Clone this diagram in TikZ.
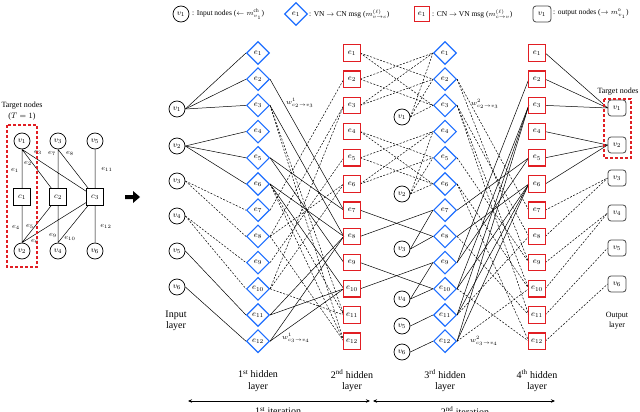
\documentclass[tikz,border=0pt]{standalone}
\usepackage{fontspec}
\setmainfont{Liberation Serif}
\usetikzlibrary{shapes.geometric,arrows.meta}
\definecolor{dblue}{RGB}{30,110,255}
\definecolor{dred}{RGB}{225,30,35}
\definecolor{ogray}{RGB}{70,70,70}
\begin{document}
\begin{tikzpicture}[x=1pt,y=-1pt,
  vin/.style={circle,draw,line width=0.7pt,minimum size=16pt,inner sep=0pt,font=\footnotesize},
  dia/.style={diamond,draw=dblue,line width=1.1pt,minimum size=23pt,inner sep=0pt,font=\footnotesize},
  cnsq/.style={rectangle,minimum size=16pt,inner sep=0pt,font=\footnotesize},
  redbox/.style={draw=dred,line width=1.2pt},
  vout/.style={rectangle,rounded corners=3pt,draw=ogray,line width=0.8pt,minimum width=18pt,minimum height=16pt,inner sep=0pt,font=\footnotesize},
  cnode/.style={rectangle,draw,line width=0.6pt,minimum size=17pt,inner sep=0pt,font=\footnotesize},
  sl/.style={line width=0.5pt},
  dl/.style={line width=0.5pt,dash pattern=on 2pt off 1.5pt},
  lab/.style={font=\fontsize{10}{11.5}\selectfont,align=center},
  sml/.style={font=\fontsize{8}{10}\selectfont,align=center},
  lgt/.style={font=\fontsize{7.5}{9}\selectfont,inner sep=0pt},
  wl/.style={font=\scriptsize,inner sep=0pt},
  el/.style={font=\scriptsize,inner sep=0pt},
]
\useasboundingbox (0,0) rectangle (640,412);

% ---------- legend ----------
\node[vin] (lg1) at (181,14) {$v_1$};
\node[lgt,anchor=west] (lt1) at (192,14) {: Input nodes ($\leftarrow m^{\mathrm{ch}}_{v_1}$)};
\node[dia] (lg2) at (296,14) {$e_1$};
\node[lgt,anchor=west] (lt2) at (309,14) {: VN $\rightarrow$ CN msg ($m^{(\ell)}_{v\rightarrow c}$)};
\node[cnsq,minimum size=14pt] (lg3) at (422,14) {$e_1$};
\node[lgt,anchor=west] (lt3) at (432,14) {: CN $\rightarrow$ VN msg ($m^{(\ell)}_{c\rightarrow v}$)};
\node[vout] (lg4) at (542,14) {$v_1$};
\node[lgt,anchor=west] (lt4) at (553,14) {: output nodes ($\rightarrow m^{\mathrm{o}}_{v_1}$)};

% ---------- Tanner graph ----------
\node[vin] (tv1) at (22,141) {$v_1$};
\node[vin] (tv3) at (58,141) {$v_3$};
\node[vin] (tv5) at (95,141) {$v_5$};
\node[cnode] (tc1) at (22,197) {$c_1$};
\node[cnode] (tc2) at (58,197) {$c_2$};
\node[cnode] (tc3) at (95,197) {$c_3$};
\node[vin] (tv2) at (22,251) {$v_2$};
\node[vin] (tv4) at (58,251) {$v_4$};
\node[vin] (tv6) at (95,251) {$v_6$};
\draw[sl] (tv1.south) -- (tc1) (tv1.south) -- (tc2) (tv1.south) -- (tc3)
          (tv3) -- (tc2) (tv3.south) -- (tc3) (tv5) -- (tc3)
          (tv2) -- (tc1) (tv2.north) -- (tc2) (tv2.north) -- (tc3)
          (tv4) -- (tc2) (tv4.north) -- (tc3) (tv6) -- (tc3);
\node[el] (te1) at (15,170) {$e_1$};
\node[el] (te2) at (28,163) {$e_2$};
\node[el] (te3) at (38,152) {$e_3$};
\node[el] (te7) at (52,153) {$e_7$};
\node[el] (te8) at (70,153) {$e_8$};
\node[el] (te11) at (107,169) {$e_{11}$};
\node[el] (te4) at (16,227) {$e_4$};
\node[el] (te5) at (30,226) {$e_5$};
\node[el] (te6) at (35,241) {$e_6$};
\node[el] (te9) at (53,235) {$e_9$};
\node[el] (te10) at (70,238) {$e_{10}$};
\node[el] (te12) at (106,226) {$e_{12}$};
\node[sml] (tgt1) at (22,106) {Target nodes};
\node[sml] (tgt2) at (22,117) {($T = 1$)};
\fill (125,195) -- (133,195) -- (133,191) -- (140,197) -- (133,203) -- (133,199) -- (125,199) -- cycle;

% ---------- layered network ----------
\foreach \k/\y in {1/109,2/146,3/181,4/216,5/251,6/287}
  \node[vin] (i\k) at (177,\y) {$v_{\k}$};
\foreach \k/\y in {1/117,2/194,3/249,4/299,5/326,6/352}
  \node[vin] (m\k) at (402,\y) {$v_{\k}$};
\foreach \k/\y in {1/108,2/145,3/178,4/213,5/248,6/284}
  \node[vout] (o\k) at (617,\y) {$v_{\k}$};
\foreach \k in {1,...,12}{
  \pgfmathsetmacro\yy{53+(\k-1)*26.2}
  \node[dia] (a\k) at (258,\yy) {$e_{\k}$};
  \node[cnsq] (b\k) at (352,\yy) {$e_{\k}$};
  \node[dia] (c\k) at (445,\yy) {$e_{\k}$};
  \node[cnsq] (d\k) at (537,\yy) {$e_{\k}$};
}

% input -> layer 1
\foreach \s/\t in {1/1,1/2,1/3,2/4,2/5,2/6,5/11,6/12}
  \draw[sl] (i\s.east) -- (a\t.west);
\foreach \s/\t in {3/7,3/8,4/9,4/10}
  \draw[dl] (i\s.east) -- (a\t.west);

% layer 1 -> layer 2
\foreach \s/\t in {2/7,5/7,5/9,3/8,6/8,6/10,11/8,11/10,12/8,12/10}
  \draw[sl] (a\s.east) -- (b\t.west);
\foreach \s/\t in {7/2,9/5,8/3,10/3,8/6,10/6,3/11,3/12,6/11,6/12,8/12,10/11}
  \draw[dl] (a\s.east) -- (b\t.west);

% layer 2 -> layer 3
\foreach \s/\t in {1/2,1/3,2/1,2/3,3/1,3/2,4/5,4/6,5/4,5/6,6/4,6/5}
  \draw[dl] (b\s.east) -- (c\t.west);
\foreach \s/\t in {7/8,8/7,9/10,10/9}
  \draw[sl] (b\s.east) -- (c\t.west);
\foreach \s/\t in {1/1,1/2,1/3,2/4,2/5,2/6}
  \draw[dl] (m\s.east) -- (c\t.west);
\foreach \s/\t in {3/7,3/8,4/9,4/10,5/11,6/12}
  \draw[sl] (m\s.east) -- (c\t.west);

% layer 3 -> layer 4
\foreach \s/\t in {9/2,7/5,9/5,10/3,8/6,10/6,11/3,11/6,12/3,12/6}
  \draw[sl] (c\s.east) -- (d\t.west);
\foreach \s/\t in {2/7,2/9,5/9,3/8,3/10,6/10,6/12,12/10,11/8,3/11,8/11,10/12}
  \draw[dl] (c\s.east) -- (d\t.west);

% layer 4 -> output
\foreach \s/\t in {1/1,2/1,3/1,4/2,5/2,6/2}
  \draw[sl] (d\s.east) -- (o\t.west);
\foreach \s/\t in {7/3,8/3,9/4,10/4,11/5,12/6}
  \draw[dl] (d\s.east) -- (o\t.west);

% weight labels
\node[wl] (w1) at (300,103) {$w^{1}_{c_2\rightarrow v_3}$};
\node[wl] (w2) at (296,338) {$w^{1}_{c_3\rightarrow v_4}$};
\node[wl] (w3) at (485,104) {$w^{2}_{c_2\rightarrow v_3}$};
\node[wl] (w4) at (484,341) {$w^{2}_{c_3\rightarrow v_4}$};

\node[sml] (tgt3) at (618,92) {Target nodes};

% layer labels
\node[lab] (inl) at (176,321) {Input\\layer};
\node[sml] (outl) at (617,321) {Output\\layer};
\node[lab] (h1) at (258,381) {1\textsuperscript{st} hidden\\layer};
\node[lab] (h2) at (352,381) {2\textsuperscript{nd} hidden\\layer};
\node[lab] (h3) at (445,381) {3\textsuperscript{rd} hidden\\layer};
\node[lab] (h4) at (537,381) {4\textsuperscript{th} hidden\\layer};

% iteration arrows
\coordinate (it1a) at (188,401);
\coordinate (it1b) at (370,401);
\coordinate (it2a) at (373,401);
\coordinate (it2b) at (555,401);
\draw[{Stealth[length=4pt,width=3.5pt]}-{Stealth[length=4pt,width=3.5pt]},line width=0.7pt] (it1a) -- (it1b);
\draw[{Stealth[length=4pt,width=3.5pt]}-{Stealth[length=4pt,width=3.5pt]},line width=0.7pt] (it2a) -- (it2b);
\node[lab] (itl1) at (278,411) {1\textsuperscript{st} iteration};
\node[lab] (itl2) at (465,411) {2\textsuperscript{nd} iteration};

% ---------- red items drawn last ----------
\begin{scope}[redbox]
\foreach \k in {1,...,12}{
  \draw (b\k.north west) rectangle (b\k.south east);
  \draw (d\k.north west) rectangle (d\k.south east);
}
\draw (lg3.north west) rectangle (lg3.south east);
\draw[dash pattern=on 3pt off 2pt] (7,125) rectangle (37,267);
\draw[dash pattern=on 3pt off 2pt] (604,99) rectangle (631,158);
\end{scope}
\end{tikzpicture}
\end{document}
